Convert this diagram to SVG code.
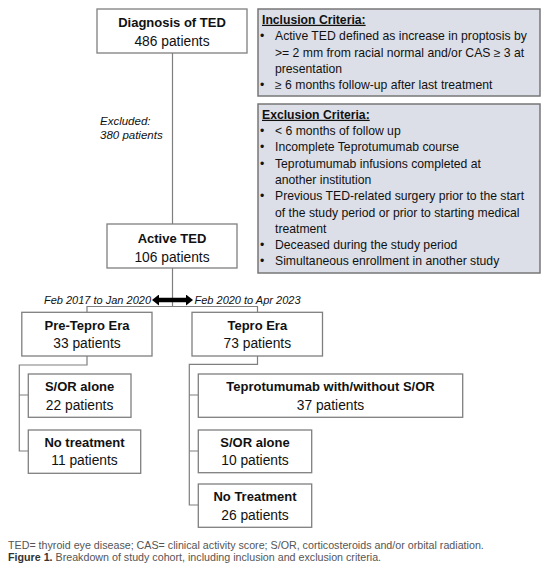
<svg xmlns="http://www.w3.org/2000/svg" width="550" height="571" viewBox="0 0 550 571">
<style>
  .box { fill: #ffffff; stroke: #7f7f7f; stroke-width: 1.3; }
  .crit { fill: #dcdfe7; stroke: #777777; stroke-width: 1.5; }
  .t { font-family: "Liberation Sans", Arial, sans-serif; font-size: 13px; font-weight: bold; fill: #111; text-anchor: middle; }
  .c { font-family: "Liberation Sans", Arial, sans-serif; font-size: 13.8px; fill: #111; text-anchor: middle; }
  .ct { font-family: "Liberation Sans", Arial, sans-serif; font-size: 12.2px; fill: #111; }
  .ch { font-family: "Liberation Sans", Arial, sans-serif; font-size: 12.2px; font-weight: bold; fill: #111; text-decoration: underline; }
  .it { font-family: "Liberation Sans", Arial, sans-serif; font-style: italic; fill: #111; }
  .conn { fill: none; stroke: #7f7f7f; stroke-width: 1.2; }
  .cap { font-family: "Liberation Sans", Arial, sans-serif; font-size: 10.7px; fill: #555; }
</style>
<defs>
  <marker id="ah" markerWidth="7" markerHeight="11" refX="0" refY="5.5" orient="auto-start-reverse" markerUnits="userSpaceOnUse">
    <path d="M0,0 L7,5.5 L0,11 z" fill="#000"/>
  </marker>
</defs>
<rect width="550" height="571" fill="#ffffff"/>

<g id="connectors">
  <path class="conn" d="M172.5,53 V224"/>
  <path class="conn" d="M172.5,268 V306.5 M87,312 V306.5 H257.5 V312"/>
  <path class="conn" d="M87,356 V365 H19.3 V451 H28.3 M19.3,395 H28.3"/>
  <path class="conn" d="M257.5,356 V364.3 H189.3 V505 H198.3 M189.3,395 H198.3 M189.3,451 H198.3"/>
  <line x1="159" y1="300" x2="186" y2="300" stroke="#000" stroke-width="4.5" marker-start="url(#ah)" marker-end="url(#ah)"/>
</g>

<g id="diagnosis">
  <rect class="box" x="97" y="9" width="150" height="44"/>
  <text class="t" x="172" y="27.3">Diagnosis of TED</text>
  <text class="c" x="172" y="45.5">486 patients</text>
</g>

<g id="inclusion">
  <rect class="crit" x="258" y="9" width="282" height="87"/>
  <text class="ch" x="262" y="23.8">Inclusion Criteria:</text>
  <g class="ct">
    <text x="260" y="40.3">•</text><text x="275" y="40.3">Active TED defined as increase in proptosis by</text>
    <text x="275" y="56.6">&gt;= 2 mm from racial normal and/or CAS ≥ 3 at</text>
    <text x="275" y="72.9">presentation</text>
    <text x="260" y="89.2">•</text><text x="275" y="89.2">≥ 6 months follow-up after last treatment</text>
  </g>
</g>

<g id="exclusion">
  <rect class="crit" x="258" y="104" width="282" height="169"/>
  <text class="ch" x="262" y="118.8">Exclusion Criteria:</text>
  <g class="ct">
    <text x="260" y="135">•</text><text x="275" y="135">&lt; 6 months of follow up</text>
    <text x="260" y="151.3">•</text><text x="275" y="151.3">Incomplete Teprotumumab course</text>
    <text x="260" y="167.6">•</text><text x="275" y="167.6">Teprotumumab infusions completed at</text>
    <text x="275" y="183.9">another institution</text>
    <text x="260" y="200.2">•</text><text x="275" y="200.2">Previous TED-related surgery prior to the start</text>
    <text x="275" y="216.5">of the study period or prior to starting medical</text>
    <text x="275" y="232.8">treatment</text>
    <text x="260" y="249.1">•</text><text x="275" y="249.1">Deceased during the study period</text>
    <text x="260" y="265.4">•</text><text x="275" y="265.4">Simultaneous enrollment in another study</text>
  </g>
</g>

<g id="excluded-label">
  <text class="it" x="100" y="125" font-size="11.5">Excluded:</text>
  <text class="it" x="100" y="139.3" font-size="11.5">380 patients</text>
</g>

<g id="active-ted">
  <rect class="box" x="107" y="224" width="130" height="44"/>
  <text class="t" x="172" y="242.7">Active TED</text>
  <text class="c" x="172" y="261.8">106 patients</text>
</g>

<g id="era-labels">
  <text class="it" x="151" y="304" font-size="11" text-anchor="end">Feb 2017 to Jan 2020</text>
  <text class="it" x="194.5" y="304" font-size="11">Feb 2020 to Apr 2023</text>
</g>

<g id="pre-tepro">
  <rect class="box" x="21.8" y="312.3" width="130.2" height="43.7"/>
  <text class="t" x="87" y="329.6">Pre-Tepro Era</text>
  <text class="c" x="87" y="348">33 patients</text>
</g>

<g id="tepro">
  <rect class="box" x="192" y="312.3" width="130.5" height="43.7"/>
  <text class="t" x="257.3" y="329.6">Tepro Era</text>
  <text class="c" x="257.3" y="348">73 patients</text>
</g>

<g id="pre-sor">
  <rect class="box" x="28.3" y="374" width="102.7" height="43.3"/>
  <text class="t" x="79.6" y="391.3">S/OR alone</text>
  <text class="c" x="79.6" y="409.8">22 patients</text>
</g>

<g id="pre-none">
  <rect class="box" x="28.3" y="430" width="112.4" height="43.3"/>
  <text class="t" x="84.5" y="447">No treatment</text>
  <text class="c" x="84.5" y="465">11 patients</text>
</g>

<g id="tepro-tx">
  <rect class="box" x="198.3" y="374" width="264.4" height="43.3"/>
  <text class="t" x="330.5" y="391.3">Teprotumumab with/without S/OR</text>
  <text class="c" x="330.5" y="409.8">37 patients</text>
</g>

<g id="tepro-sor">
  <rect class="box" x="198.3" y="430" width="113.4" height="42.7"/>
  <text class="t" x="255" y="447">S/OR alone</text>
  <text class="c" x="255" y="465">10 patients</text>
</g>

<g id="tepro-none">
  <rect class="box" x="198.3" y="484" width="113.4" height="43.3"/>
  <text class="t" x="255" y="501.3">No Treatment</text>
  <text class="c" x="255" y="519.8">26 patients</text>
</g>

<g id="caption">
  <text class="cap" x="8" y="548.5">TED= thyroid eye disease; CAS= clinical activity score; S/OR, corticosteroids and/or orbital radiation.</text>
  <text class="cap" x="8" y="560.5"><tspan font-weight="bold" fill="#333">Figure 1.</tspan> Breakdown of study cohort, including inclusion and exclusion criteria.</text>
</g>
</svg>
